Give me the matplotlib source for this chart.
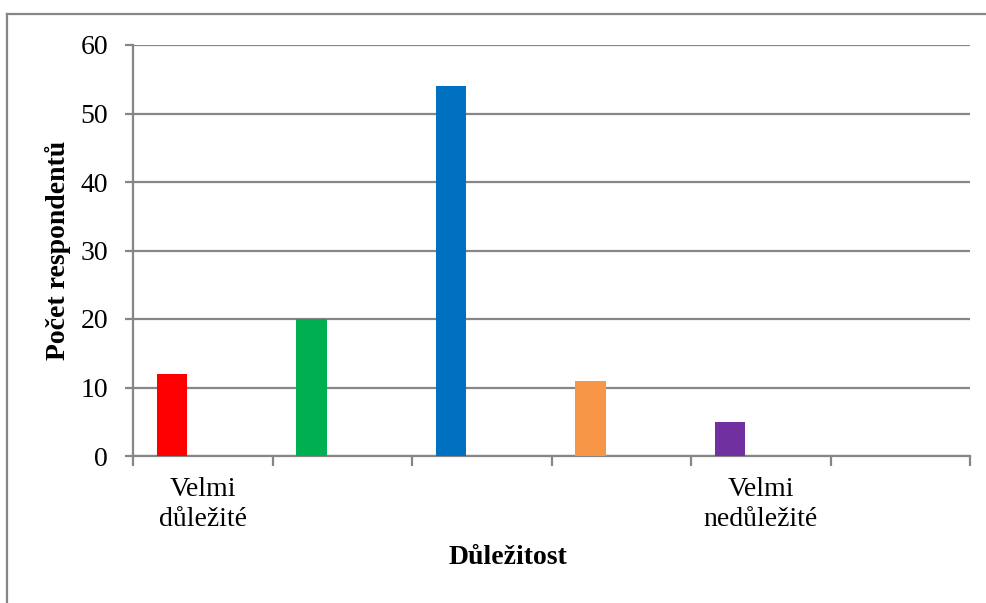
import matplotlib.pyplot as plt
from matplotlib.lines import Line2D

# data
kategorie = ["Velmi\ndůležité", "", "", "", "Velmi\nnedůležité", ""]
hodnoty = [12, 20, 54, 11, 5, 0]
barvy = ["#ff0000", "#00b050", "#0070c0", "#f79646", "#7030a0", "#4bacc6"]
y_ticky = [0, 10, 20, 30, 40, 50, 60]

plt.rcParams['font.family'] = ['Liberation Serif', 'DejaVu Serif']

fig = plt.figure(figsize=(9.86, 6.03), dpi=100)
ax = fig.add_axes([133/986, 1-456/603, (970-133)/986, (456-45)/603])

seda = "#868686"
for i, h in enumerate(hodnoty):
    if h > 0:
        ax.bar(i + 0.28, h, width=0.22, color=barvy[i], zorder=3)

ax.set_xlim(0, len(hodnoty))
ax.set_ylim(0, 60)
ax.set_yticks(y_ticky)
ax.set_yticklabels([str(v) for v in y_ticky], fontsize=20)
ax.yaxis.grid(True, color=seda, linewidth=1.6, zorder=0)
ax.set_axisbelow(True)

# ticks mezi kategoriemi, popisky uprostred
ax.set_xticks(range(len(hodnoty) + 1))
ax.set_xticklabels([])
ax.set_xticks([i + 0.5 for i in range(len(hodnoty))], minor=True)
ax.set_xticklabels(kategorie, minor=True, fontsize=20, linespacing=1.25)
ax.tick_params(axis='x', which='minor', length=0, pad=15)
ax.tick_params(axis='x', which='major', length=7, width=1.6, color=seda, direction='out')
ax.tick_params(axis='y', length=6, width=1.6, color=seda, pad=12)

for s in ["top", "right"]:
    ax.spines[s].set_visible(False)
for s in ["left", "bottom"]:
    ax.spines[s].set_color(seda)
    ax.spines[s].set_linewidth(1.6)

fig.text(58/986, 1-250/603, "Počet respondentů", fontsize=20, fontweight='bold',
         rotation=90, ha='center', va='center')
fig.text(508/986, 1-558/603, "Důležitost", fontsize=20, fontweight='bold',
         ha='center', va='center')

# ramecek grafu
fig.add_artist(Line2D([7/986, 7/986], [0, 1-14/603], color=seda, linewidth=1.6,
                      transform=fig.transFigure))
fig.add_artist(Line2D([7/986, 1], [1-14/603, 1-14/603], color=seda, linewidth=1.6,
                      transform=fig.transFigure))

fig.savefig("out.png", dpi=100)
